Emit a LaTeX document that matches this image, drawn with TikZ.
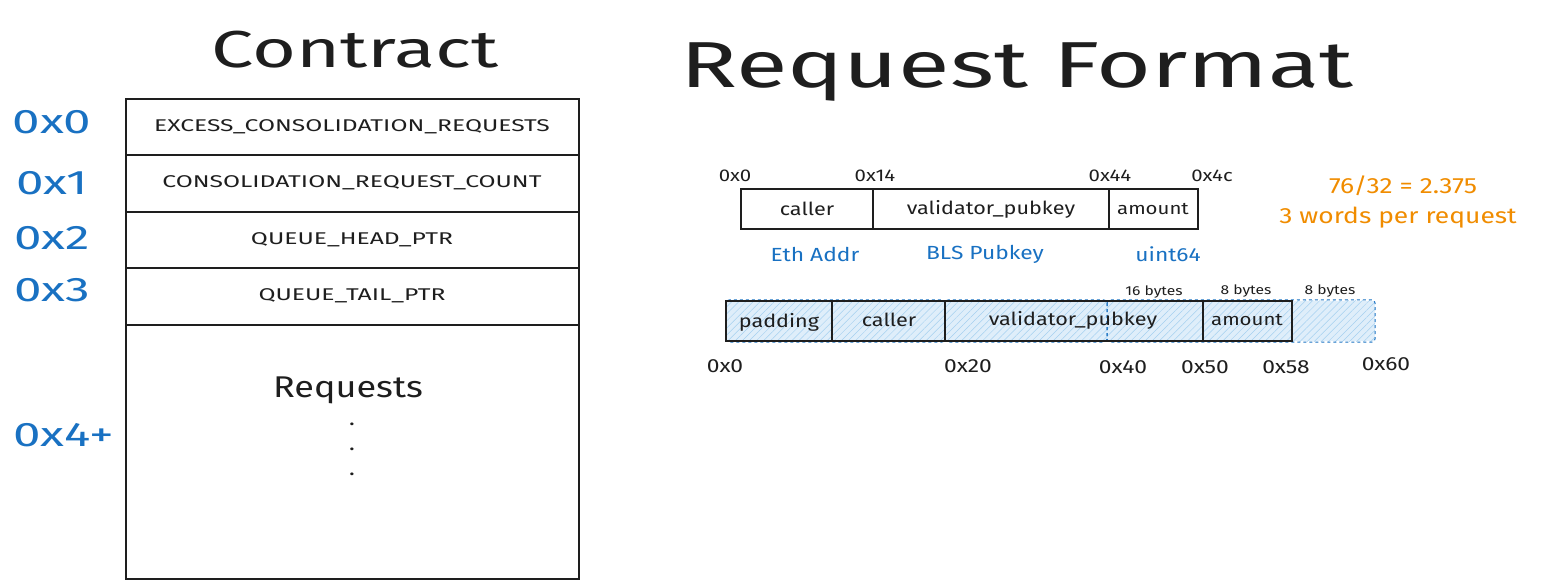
\documentclass[tikz,border=0pt]{standalone}
\usepackage{fontspec}
\setmainfont{Fira Sans}[FakeStretch=1.2]
\newfontfamily\widef{Fira Sans}[FakeStretch=1.45]
\usetikzlibrary{patterns.meta}
\definecolor{ink}{HTML}{1E1E1E}
\definecolor{bl}{HTML}{1971C2}
\definecolor{org}{HTML}{F08C00}
\definecolor{hatch}{HTML}{A5D0F0}
\newcommand{\fs}[1]{\fontsize{#1}{#1}\selectfont}
\tikzset{
 cell/.style={draw=ink,line width=1.2pt},
 lab/.style={text=ink,font=\fs{17}},
 addr/.style={text=bl,font=\widef\fs{34}},
 off/.style={text=ink,font=\fs{17}},
 word/.style={draw=bl,dashed,line width=1pt,rounded corners=3pt},
}
\begin{document}
\begin{tikzpicture}[x=1pt,y=-1pt]
\useasboundingbox (0,0) rectangle (1543,588);
% Contract
\node[font=\widef\fs{52},text=ink] (ct) at (355,50) {Contract};
\foreach \a/\b [count=\i] in {99/155,155/212,212/268,268/325,325/579}{
  \draw[cell] (126,\a) rectangle (579,\b);
}
\node[lab,font=\widef\fs{17}] (r0) at (352,127) {EXCESS\_CONSOLIDATION\_REQUESTS};
\node[lab,font=\widef\fs{17}] (r1) at (352,183) {CONSOLIDATION\_REQUEST\_COUNT};
\node[lab,font=\widef\fs{17}] (r2) at (352,240) {QUEUE\_HEAD\_PTR};
\node[lab,font=\widef\fs{17}] (r3) at (352,296) {QUEUE\_TAIL\_PTR};
\node[font=\fs{30},text=ink] (rq) at (348,390) {Requests};
\foreach \y/\n in {430/d1,455/d2,480/d3}{\node[font=\fs{20},text=ink] (\n) at (352,\y-6) {.};}
\node[addr] (a0) at (52,122) {0x0};
\node[addr] (a1) at (52,183) {0x1};
\node[addr] (a2) at (52,238) {0x2};
\node[addr] (a3) at (52,290) {0x3};
\node[addr] (a4) at (64,435) {0x4+};
% Request format
\node[font=\widef\fs{65},text=ink] (rf) at (1017,72) {Request Format};
\draw[cell] (741,189) rectangle (873,229);
\draw[cell] (873,189) rectangle (1109,229);
\draw[cell] (1109,189) rectangle (1198,229);
\node[lab,font=\fs{18}] (c1) at (807,209) {caller};
\node[lab,font=\fs{18}] (c2) at (991,209) {validator\_pubkey};
\node[lab,font=\fs{17}] (c3) at (1153,209) {amount};
\node[off] (o1) at (735,176) {0x0};
\node[off] (o2) at (875,176) {0x14};
\node[off] (o3) at (1110,176) {0x44};
\node[off] (o4) at (1212,176) {0x4c};
\node[text=bl,font=\fs{19}] (t1) at (815,254) {Eth Addr};
\node[text=bl,font=\fs{19}] (t2) at (985,254) {BLS Pubkey};
\node[text=bl,font=\fs{19}] (t3) at (1168,254) {uint64};
\node[text=org,font=\fs{22}] (m1) at (1403,186) {76/32 = 2.375};
\node[text=org,font=\fs{22}] (m2) at (1398,218) {3 words per request};
% lower bar
\fill[hatch!35] (726,301) rectangle (1375,341);
\fill[pattern={Lines[angle=45,distance=5pt,line width=0.5pt]},pattern color=hatch] (726,301) rectangle (1375,341);
\draw[word] (726,300) rectangle (945,342);
\draw[word] (945,300) rectangle (1107,342);
\draw[word] (1107,300) rectangle (1375,342);
\draw[cell] (726,301) rectangle (832,341);
\draw[cell] (832,301) rectangle (945,341);
\draw[cell] (945,301) rectangle (1203,341);
\draw[cell] (1203,301) rectangle (1292,341);
\node[lab,font=\fs{18}] (p0) at (779,322) {padding};
\node[lab,font=\fs{18}] (p1) at (889,320) {caller};
\node[lab,font=\fs{18}] (p2) at (1073,320) {validator\_pubkey};
\node[lab,font=\fs{17}] (p3) at (1247,320) {amount};
\node[off,font=\fs{13}] (b1) at (1154,292) {16 bytes};
\node[off,font=\fs{13}] (b2) at (1246,291) {8 bytes};
\node[off,font=\fs{13}] (b3) at (1330,291) {8 bytes};
\node[off,font=\fs{19}] (q0) at (725,366) {0x0};
\node[off,font=\fs{19}] (q1) at (968,366) {0x20};
\node[off,font=\fs{19}] (q2) at (1123,367) {0x40};
\node[off,font=\fs{19}] (q3) at (1205,367) {0x50};
\node[off,font=\fs{19}] (q4) at (1286,367) {0x58};
\node[off,font=\fs{19}] (q5) at (1386,364) {0x60};
\end{tikzpicture}
\end{document}
